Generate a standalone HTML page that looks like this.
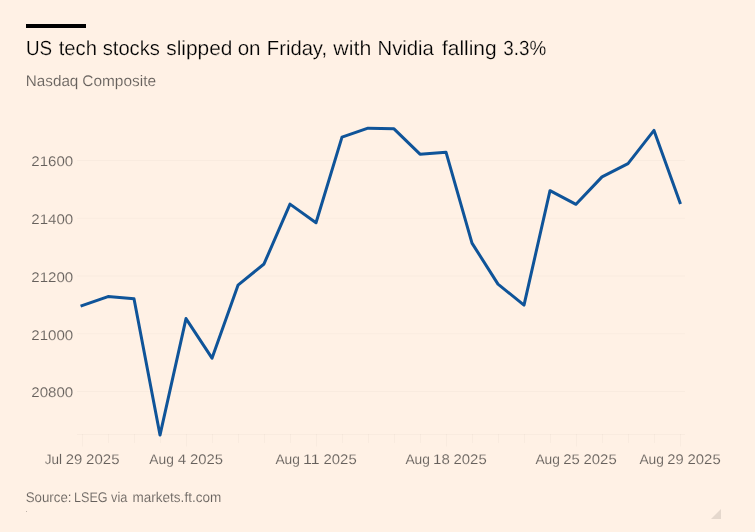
<!DOCTYPE html>
<html lang="en"><head><meta charset="utf-8"><title>Nasdaq Composite</title>
<style>
html,body{margin:0;padding:0;background:#fff1e5;}
body{width:755px;height:532px;overflow:hidden;font-family:"Liberation Sans",sans-serif;}
svg{display:block;}
svg text{font-family:"Liberation Sans",sans-serif;text-rendering:geometricPrecision;}
.title{font-size:20.5px;fill:#000;stroke:#fff1e5;stroke-width:0.22px;}
.sub{font-size:15.3px;fill:#66605c;stroke:#fff1e5;stroke-width:0.12px;}
.x,.y{font-size:14px;fill:#66605c;stroke:#fff1e5;stroke-width:0.12px;}
.src{font-size:14px;fill:#66605c;stroke:#fff1e5;stroke-width:0.12px;}
.grid line{stroke:#000;stroke-opacity:0.024;stroke-width:1;}
.ticks line{stroke:#000;stroke-opacity:0.024;stroke-width:1;}
</style></head><body>
<svg width="755" height="532" viewBox="0 0 755 532">
<rect width="755" height="532" fill="#fff1e5"/>
<rect x="26" y="24" width="60" height="4" fill="#000"/>
<text class="title" y="55.00" xml:space="preserve"><tspan x="25.92" textLength="26.17" lengthAdjust="spacingAndGlyphs">US</tspan> <tspan x="58.70" textLength="38.24" lengthAdjust="spacingAndGlyphs">tech</tspan> <tspan x="102.68" textLength="57.25" lengthAdjust="spacingAndGlyphs">stocks</tspan> <tspan x="166.27" textLength="66.20" lengthAdjust="spacingAndGlyphs">slipped</tspan> <tspan x="237.66" textLength="22.90" lengthAdjust="spacingAndGlyphs">on</tspan> <tspan x="266.82" textLength="60.29" lengthAdjust="spacingAndGlyphs">Friday,</tspan> <tspan x="333.33" textLength="37.97" lengthAdjust="spacingAndGlyphs">with</tspan> <tspan x="377.52" textLength="56.36" lengthAdjust="spacingAndGlyphs">Nvidia</tspan> <tspan x="441.90" textLength="54.78" lengthAdjust="spacingAndGlyphs">falling</tspan> <tspan x="503.31" textLength="42.85" lengthAdjust="spacingAndGlyphs">3.3%</tspan></text>
<text class="sub" y="86.10" xml:space="preserve"><tspan x="25.81" textLength="52.55" lengthAdjust="spacingAndGlyphs">Nasdaq</tspan> <tspan x="82.28" textLength="73.75" lengthAdjust="spacingAndGlyphs">Composite</tspan></text>
<g class="grid"><line x1="77" x2="685" y1="160.50" y2="160.50"/><line x1="77" x2="685" y1="218.25" y2="218.25"/><line x1="77" x2="685" y1="276.00" y2="276.00"/><line x1="77" x2="685" y1="333.75" y2="333.75"/><line x1="77" x2="685" y1="391.50" y2="391.50"/><line x1="77" x2="685" y1="434.5" y2="434.5"/></g>
<g class="ticks"><line x1="82.50" x2="82.50" y1="434" y2="446.5"/><line x1="108.50" x2="108.50" y1="434" y2="443"/><line x1="134.50" x2="134.50" y1="434" y2="443"/><line x1="160.50" x2="160.50" y1="434" y2="443"/><line x1="186.50" x2="186.50" y1="434" y2="446.5"/><line x1="212.50" x2="212.50" y1="434" y2="443"/><line x1="238.50" x2="238.50" y1="434" y2="443"/><line x1="264.50" x2="264.50" y1="434" y2="443"/><line x1="290.50" x2="290.50" y1="434" y2="443"/><line x1="316.50" x2="316.50" y1="434" y2="446.5"/><line x1="342.50" x2="342.50" y1="434" y2="443"/><line x1="368.50" x2="368.50" y1="434" y2="443"/><line x1="394.50" x2="394.50" y1="434" y2="443"/><line x1="420.50" x2="420.50" y1="434" y2="443"/><line x1="446.50" x2="446.50" y1="434" y2="446.5"/><line x1="472.50" x2="472.50" y1="434" y2="443"/><line x1="498.50" x2="498.50" y1="434" y2="443"/><line x1="524.50" x2="524.50" y1="434" y2="443"/><line x1="550.50" x2="550.50" y1="434" y2="443"/><line x1="576.50" x2="576.50" y1="434" y2="446.5"/><line x1="602.50" x2="602.50" y1="434" y2="443"/><line x1="628.50" x2="628.50" y1="434" y2="443"/><line x1="654.50" x2="654.50" y1="434" y2="443"/><line x1="680.50" x2="680.50" y1="434" y2="446.5"/></g>
<g class="lab"><text class="x" y="463.85" xml:space="preserve"><tspan x="44.79" textLength="17.30" lengthAdjust="spacingAndGlyphs">Jul</tspan> <tspan x="65.80" textLength="16.50" lengthAdjust="spacingAndGlyphs">29</tspan> <tspan x="86.10" textLength="33.41" lengthAdjust="spacingAndGlyphs">2025</tspan></text><text class="x" y="463.85" xml:space="preserve"><tspan x="149.30" textLength="24.58" lengthAdjust="spacingAndGlyphs">Aug</tspan> <tspan x="177.66" textLength="8.41" lengthAdjust="spacingAndGlyphs">4</tspan> <tspan x="190.00" textLength="33.10" lengthAdjust="spacingAndGlyphs">2025</tspan></text><text class="x" y="463.85" xml:space="preserve"><tspan x="275.40" textLength="24.58" lengthAdjust="spacingAndGlyphs">Aug</tspan> <tspan x="303.00" textLength="16.54" lengthAdjust="spacingAndGlyphs">11</tspan> <tspan x="323.50" textLength="33.20" lengthAdjust="spacingAndGlyphs">2025</tspan></text><text class="x" y="463.85" xml:space="preserve"><tspan x="405.40" textLength="24.58" lengthAdjust="spacingAndGlyphs">Aug</tspan> <tspan x="433.06" textLength="16.75" lengthAdjust="spacingAndGlyphs">18</tspan> <tspan x="453.50" textLength="33.20" lengthAdjust="spacingAndGlyphs">2025</tspan></text><text class="x" y="463.85" xml:space="preserve"><tspan x="535.40" textLength="24.58" lengthAdjust="spacingAndGlyphs">Aug</tspan> <tspan x="563.30" textLength="16.60" lengthAdjust="spacingAndGlyphs">25</tspan> <tspan x="583.50" textLength="33.20" lengthAdjust="spacingAndGlyphs">2025</tspan></text><text class="x" y="463.85" xml:space="preserve"><tspan x="639.40" textLength="24.58" lengthAdjust="spacingAndGlyphs">Aug</tspan> <tspan x="667.31" textLength="16.39" lengthAdjust="spacingAndGlyphs">29</tspan> <tspan x="687.50" textLength="33.20" lengthAdjust="spacingAndGlyphs">2025</tspan></text><text class="y" y="166.30" xml:space="preserve"><tspan x="31.29" textLength="41.98" lengthAdjust="spacingAndGlyphs">21600</tspan></text><text class="y" y="224.05" xml:space="preserve"><tspan x="31.29" textLength="41.98" lengthAdjust="spacingAndGlyphs">21400</tspan></text><text class="y" y="281.80" xml:space="preserve"><tspan x="31.29" textLength="41.98" lengthAdjust="spacingAndGlyphs">21200</tspan></text><text class="y" y="339.55" xml:space="preserve"><tspan x="31.29" textLength="41.98" lengthAdjust="spacingAndGlyphs">21000</tspan></text><text class="y" y="397.30" xml:space="preserve"><tspan x="31.29" textLength="41.98" lengthAdjust="spacingAndGlyphs">20800</tspan></text></g>
<polyline fill="none" stroke="#0f5499" stroke-width="3" stroke-linejoin="round" stroke-linecap="square" points="82.00,305.67 108.00,296.61 134.00,298.69 160.00,435.07 186.00,318.58 212.00,358.15 238.00,285.13 264.00,263.97 290.00,204.11 316.00,222.77 342.00,137.15 368.00,128.13 394.00,128.84 420.00,154.16 446.00,152.20 472.00,243.11 498.00,284.14 524.00,305.09 550.00,190.68 576.00,204.32 602.00,176.89 628.00,163.65 654.00,130.44 680.00,202.51"/>
<text class="src" y="502.00" xml:space="preserve"><tspan x="25.68" textLength="45.82" lengthAdjust="spacingAndGlyphs">Source:</tspan> <tspan x="74.12" textLength="33.52" lengthAdjust="spacingAndGlyphs">LSEG</tspan> <tspan x="111.10" textLength="16.32" lengthAdjust="spacingAndGlyphs">via</tspan> <tspan x="132.56" textLength="88.64" lengthAdjust="spacingAndGlyphs">markets.ft.com</tspan></text>
<rect x="26" y="511" width="1" height="1" fill="#000" fill-opacity="0.25"/>
<polygon points="721,509 721,519 711,519" fill="#000" fill-opacity="0.1"/>
</svg>
</body></html>
